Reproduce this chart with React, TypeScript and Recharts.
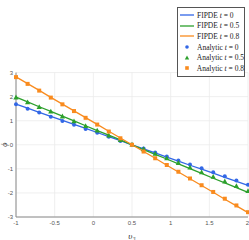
import React from 'react';
import { ComposedChart, Line, Scatter, XAxis, YAxis, CartesianGrid, Legend } from 'recharts';

// sample points along v3
const vGrid = [-1, -0.85, -0.7, -0.55, -0.4, -0.25, -0.1, 0.05, 0.2, 0.35, 0.5, 0.65, 0.8, 0.95, 1.1, 1.25, 1.4, 1.55, 1.7, 1.85, 2];

// FIPDE solutions
const fipdeT0 = [1.69, 1.52, 1.35, 1.18, 1.01, 0.85, 0.68, 0.51, 0.34, 0.17, 0, -0.17, -0.34, -0.51, -0.68, -0.85, -1.01, -1.18, -1.35, -1.52, -1.69];
const fipdeT05 = [1.98, 1.78, 1.58, 1.39, 1.19, 0.99, 0.79, 0.59, 0.4, 0.2, 0, -0.2, -0.4, -0.59, -0.79, -0.99, -1.19, -1.39, -1.58, -1.78, -1.98];
const fipdeT08 = [2.82, 2.54, 2.26, 1.97, 1.69, 1.41, 1.13, 0.85, 0.56, 0.28, 0, -0.28, -0.56, -0.85, -1.13, -1.41, -1.69, -1.97, -2.26, -2.54, -2.82];

// analytic solutions
const analyticT0 = [1.68, 1.5, 1.34, 1.16, 0.99, 0.83, 0.66, 0.5, 0.33, 0.16, 0, -0.15, -0.32, -0.49, -0.65, -0.82, -0.98, -1.14, -1.31, -1.48, -1.66];
const analyticT05 = [1.96, 1.76, 1.56, 1.37, 1.17, 0.97, 0.77, 0.58, 0.38, 0.19, 0, -0.19, -0.38, -0.57, -0.76, -0.95, -1.15, -1.34, -1.53, -1.72, -1.93];
const analyticT08 = [2.81, 2.53, 2.25, 1.96, 1.68, 1.4, 1.12, 0.84, 0.55, 0.27, 0, -0.28, -0.56, -0.84, -1.12, -1.4, -1.68, -1.96, -2.24, -2.52, -2.8];

const xTicks = [-1, -0.5, 0, 0.5, 1, 1.5, 2];
const yTicks = [-3, -2, -1, 0, 1, 2, 3];

const BLUE = '#3267e6';
const GREEN = '#2ca02c';
const ORANGE = '#f98b1e';

const data = vGrid.map((v, i) => ({
  v,
  f0: fipdeT0[i],
  f05: fipdeT05[i],
  f08: fipdeT08[i],
  a0: analyticT0[i],
  a05: analyticT05[i],
  a08: analyticT08[i],
}));

const Circle = (p: any) => <circle cx={p.cx} cy={p.cy} r={2} fill={BLUE} />;
const Tri = (p: any) => (
  <polygon points={`${p.cx},${p.cy - 3} ${p.cx - 2.6},${p.cy + 1.8} ${p.cx + 2.6},${p.cy + 1.8}`} fill={GREEN} />
);
const Sq = (p: any) => <rect x={p.cx - 2} y={p.cy - 2} width={4} height={4} fill={ORANGE} />;

const legendRows = [
  { kind: 'line', color: BLUE, label: 'FIPDE', t: '0' },
  { kind: 'line', color: GREEN, label: 'FIPDE', t: '0.5' },
  { kind: 'line', color: ORANGE, label: 'FIPDE', t: '0.8' },
  { kind: 'circle', color: BLUE, label: 'Analytic', t: '0' },
  { kind: 'tri', color: GREEN, label: 'Analytic', t: '0.5' },
  { kind: 'square', color: ORANGE, label: 'Analytic', t: '0.8' },
];

const renderLegend = () => (
  <div style={{ background: '#fff', border: '1px solid #555', padding: '2px 0 2px 2px', fontFamily: '"Liberation Serif", serif', fontSize: 7.5, color: '#222' }}>
    {legendRows.map((r, i) => (
      <div key={i} style={{ display: 'flex', alignItems: 'center', height: 10.6, whiteSpace: 'nowrap' }}>
        <svg width={15} height={8} style={{ marginRight: 2 }}>
          {r.kind === 'line' && <line x1={0} y1={4} x2={14} y2={4} stroke={r.color} strokeWidth={1.3} />}
          {r.kind === 'circle' && <circle cx={7} cy={4} r={1.8} fill={r.color} />}
          {r.kind === 'tri' && <polygon points="7,1.5 4.8,5.5 9.2,5.5" fill={r.color} />}
          {r.kind === 'square' && <rect x={5.2} y={2.2} width={3.6} height={3.6} fill={r.color} />}
        </svg>
        <span>
          {r.label} <i>t</i> = {r.t}
        </span>
      </div>
    ))}
  </div>
);

export default function App() {
  return (
    <div style={{ position: 'absolute', left: 0, top: 0, width: 249, height: 240, background: '#fff' }}>
      <ComposedChart width={249} height={240} data={data} margin={{ top: 3, right: 1, left: 0, bottom: 0 }}>
        <CartesianGrid stroke="#ebebeb" strokeWidth={0.8} />
        <XAxis
          dataKey="v"
          type="number"
          domain={[-1, 2]}
          ticks={xTicks}
          height={23}
          tickSize={0}
          tickMargin={4}
          tickLine={false}
          stroke="#8a8a8a"
          tick={{ fontSize: 6, fill: '#555', fontFamily: '"Liberation Sans", sans-serif' }}
          label={{ value: 'υ₃', position: 'insideBottom', offset: 1, style: { fontSize: 9, fill: '#333', fontStyle: 'italic', fontFamily: '"Liberation Serif", serif' } }}
        />
        <YAxis
          type="number"
          domain={[-3, 3]}
          ticks={yTicks}
          width={16}
          tickSize={0}
          tickMargin={3}
          tickLine={false}
          stroke="#8a8a8a"
          tick={{ fontSize: 6, fill: '#555', fontFamily: '"Liberation Sans", sans-serif' }}
          label={{ value: 'ϕ', angle: -90, position: 'insideLeft', offset: 4, style: { textAnchor: 'middle', fontSize: 8, fill: '#333', fontStyle: 'italic', fontFamily: '"Liberation Serif", serif' } }}
        />
        <Legend
          layout="vertical"
          align="center"
          verticalAlign="top"
          content={renderLegend}
          wrapperStyle={{ left: 177, top: 7, width: 68 }}
        />
        <Line dataKey="f0" stroke={BLUE} strokeWidth={1.3} dot={false} isAnimationActive={false} />
        <Line dataKey="f05" stroke={GREEN} strokeWidth={1.3} dot={false} isAnimationActive={false} />
        <Line dataKey="f08" stroke={ORANGE} strokeWidth={1.3} dot={false} isAnimationActive={false} />
        <Scatter dataKey="a0" shape={Circle} isAnimationActive={false} />
        <Scatter dataKey="a05" shape={Tri} isAnimationActive={false} />
        <Scatter dataKey="a08" shape={Sq} isAnimationActive={false} />
      </ComposedChart>
    </div>
  );
}
